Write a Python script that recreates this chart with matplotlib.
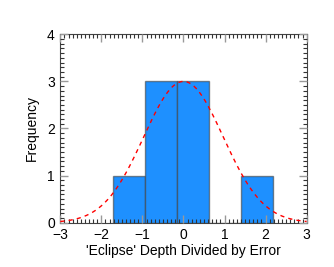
import numpy as np
import matplotlib
matplotlib.use("Agg")
import matplotlib.pyplot as plt
from matplotlib.ticker import MultipleLocator

bin_edges = [-1.72, -0.94, -0.16, 0.62, 1.40, 2.18]
counts = [1, 3, 3, 0, 1]
gauss_amp = 3.0
gauss_mu = 0.0
gauss_sigma = 0.97

plt.rcParams['font.family'] = ['Liberation Sans', 'DejaVu Sans']
fig = plt.figure(figsize=(3.34, 2.67), dpi=100)
ax = fig.add_axes([0.1806, 0.166, 0.7374, 0.7055])

lefts = np.array(bin_edges[:-1])
widths = np.diff(bin_edges)
ax.bar(lefts, counts, width=widths, align='edge', color='#1E90FF',
       edgecolor=(0.25, 0.25, 0.25, 0.6), linewidth=1.0, zorder=1)

xs = np.linspace(-3, 3, 400)
ys = gauss_amp * np.exp(-(xs - gauss_mu) ** 2 / (2 * gauss_sigma ** 2))
ax.plot(xs, ys, color='red', linestyle=(0, (3, 3)), linewidth=1.0, zorder=3)

ax.set_xlim(-3, 3)
ax.set_ylim(0, 4)
ax.xaxis.set_major_locator(MultipleLocator(1))
ax.xaxis.set_minor_locator(MultipleLocator(0.1))
ax.yaxis.set_major_locator(MultipleLocator(1))
ax.yaxis.set_minor_locator(MultipleLocator(0.1))
ax.tick_params(which='major', direction='in', length=6, width=1, color='#999999',
               top=True, right=True, labelsize=10, pad=4)
ax.tick_params(which='minor', direction='in', length=3, width=0.8, color='#333333',
               top=True, right=True)
for s in ax.spines.values():
    s.set_linewidth(0.8)
    s.set_color('#444444')
ax.set_xlabel("'Eclipse' Depth Divided by Error", fontsize=10, labelpad=1)
ax.set_ylabel("Frequency", fontsize=10, labelpad=6)
ax.set_axisbelow(False)

fig.savefig("out.png", dpi=100)
